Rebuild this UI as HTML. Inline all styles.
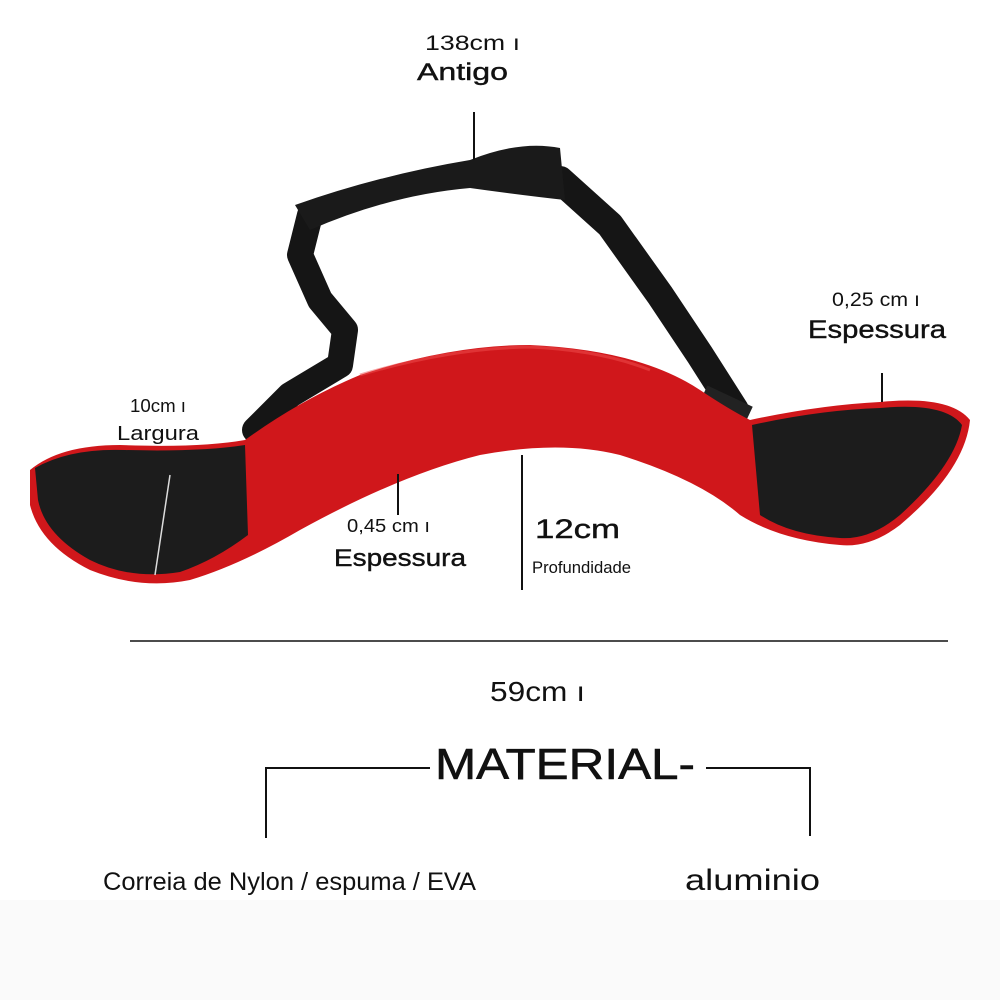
<!DOCTYPE html>
<html><head><meta charset="utf-8"><style>
html,body{margin:0;padding:0;background:#fff;}
svg{display:block}
text{font-family:"Liberation Sans",sans-serif;fill:#111}
</style></head><body>
<svg width="1000" height="1000" viewBox="0 0 1000 1000" xmlns="http://www.w3.org/2000/svg">
<rect width="1000" height="1000" fill="#fff"/>
<rect y="900" width="1000" height="100" fill="#fafafa"/>
<!-- straps -->
<g fill="none" stroke="#151515" stroke-linejoin="round" stroke-linecap="round">
<path d="M310 215 L300 255 L320 300 L345 330 L340 365 L290 395 L255 430" stroke-width="26"/>
<path d="M560 180 L610 225 L660 295 L700 355 L735 410" stroke-width="28"/>
</g>
<path d="M295 205 Q380 175 470 160 Q520 140 560 148 L565 200 Q520 195 470 188 Q390 195 310 230 Z" fill="#1a1a1a"/>
<rect x="700" y="395" width="50" height="24" transform="rotate(25 725 407)" fill="#222"/>
<!-- red bar -->
<path d="M30 470 Q60 445 120 445 Q200 448 245 440 Q300 400 360 375 Q450 345 530 345 Q640 350 700 390 Q730 410 750 420 Q820 405 880 402 Q950 395 970 420 Q965 470 900 525 Q870 548 840 545 Q780 540 740 515 Q700 480 620 455 Q560 440 480 455 Q400 475 300 530 Q240 565 190 580 Q140 590 90 570 Q40 545 30 505 Z" fill="#d0171b"/>
<path d="M360 375 Q450 348 530 347 Q600 350 650 370" fill="none" stroke="#f05050" stroke-width="3" opacity="0.5"/>
<!-- pads -->
<path d="M35 468 Q70 448 125 450 Q200 452 245 445 L248 535 Q215 560 180 572 Q130 580 90 560 Q45 535 38 500 Z" fill="#1c1c1c"/>
<path d="M752 425 Q820 410 880 408 Q945 402 962 425 Q955 465 900 515 Q870 540 840 538 Q790 535 760 515 Z" fill="#1c1c1c"/>
<line x1="170" y1="475" x2="155" y2="575" stroke="#ddd" stroke-width="1.5"/>
<!-- dimension lines -->
<g stroke="#111" stroke-width="2">
<line x1="474" y1="112" x2="474" y2="160"/>
<line x1="882" y1="373" x2="882" y2="402"/>
<line x1="398" y1="474" x2="398" y2="515"/>
<line x1="522" y1="455" x2="522" y2="590"/>
<line x1="130" y1="641" x2="948" y2="641" stroke-width="1.5"/>
<line x1="265" y1="768" x2="430" y2="768"/>
<line x1="706" y1="768" x2="811" y2="768"/>
<line x1="266" y1="767" x2="266" y2="838"/>
<line x1="810" y1="767" x2="810" y2="836"/>
</g>
<!-- text -->
<text x="425" y="50" font-size="21" textLength="95" lengthAdjust="spacingAndGlyphs">138cm ı</text>
<text x="417" y="80" font-size="24" textLength="91" lengthAdjust="spacingAndGlyphs" stroke="#111" stroke-width="0.4">Antigo</text>
<text x="832" y="306" font-size="19" textLength="88" lengthAdjust="spacingAndGlyphs">0,25 cm ı</text>
<text x="808" y="338" font-size="25" textLength="138" lengthAdjust="spacingAndGlyphs" stroke="#111" stroke-width="0.4">Espessura</text>
<text x="130" y="412" font-size="18" textLength="56" lengthAdjust="spacingAndGlyphs">10cm ı</text>
<text x="117" y="440" font-size="20" textLength="82" lengthAdjust="spacingAndGlyphs">Largura</text>
<text x="347" y="532" font-size="18" textLength="83" lengthAdjust="spacingAndGlyphs">0,45 cm ı</text>
<text x="334" y="566" font-size="24" textLength="132" lengthAdjust="spacingAndGlyphs" stroke="#111" stroke-width="0.4">Espessura</text>
<text x="535" y="538" font-size="27" textLength="85" lengthAdjust="spacingAndGlyphs" stroke="#111" stroke-width="0.4">12cm</text>
<text x="532" y="573" font-size="17" textLength="99" lengthAdjust="spacingAndGlyphs">Profundidade</text>
<text x="490" y="701" font-size="28" textLength="95" lengthAdjust="spacingAndGlyphs">59cm ı</text>
<text x="435" y="779" font-size="44" textLength="260" lengthAdjust="spacingAndGlyphs" stroke="#111" stroke-width="0.6">MATERIAL-</text>
<text x="103" y="890" font-size="25" textLength="373" lengthAdjust="spacingAndGlyphs">Correia de Nylon / espuma / EVA</text>
<text x="685" y="890" font-size="30" textLength="135" lengthAdjust="spacingAndGlyphs">aluminio</text>
</svg>
</body></html>
